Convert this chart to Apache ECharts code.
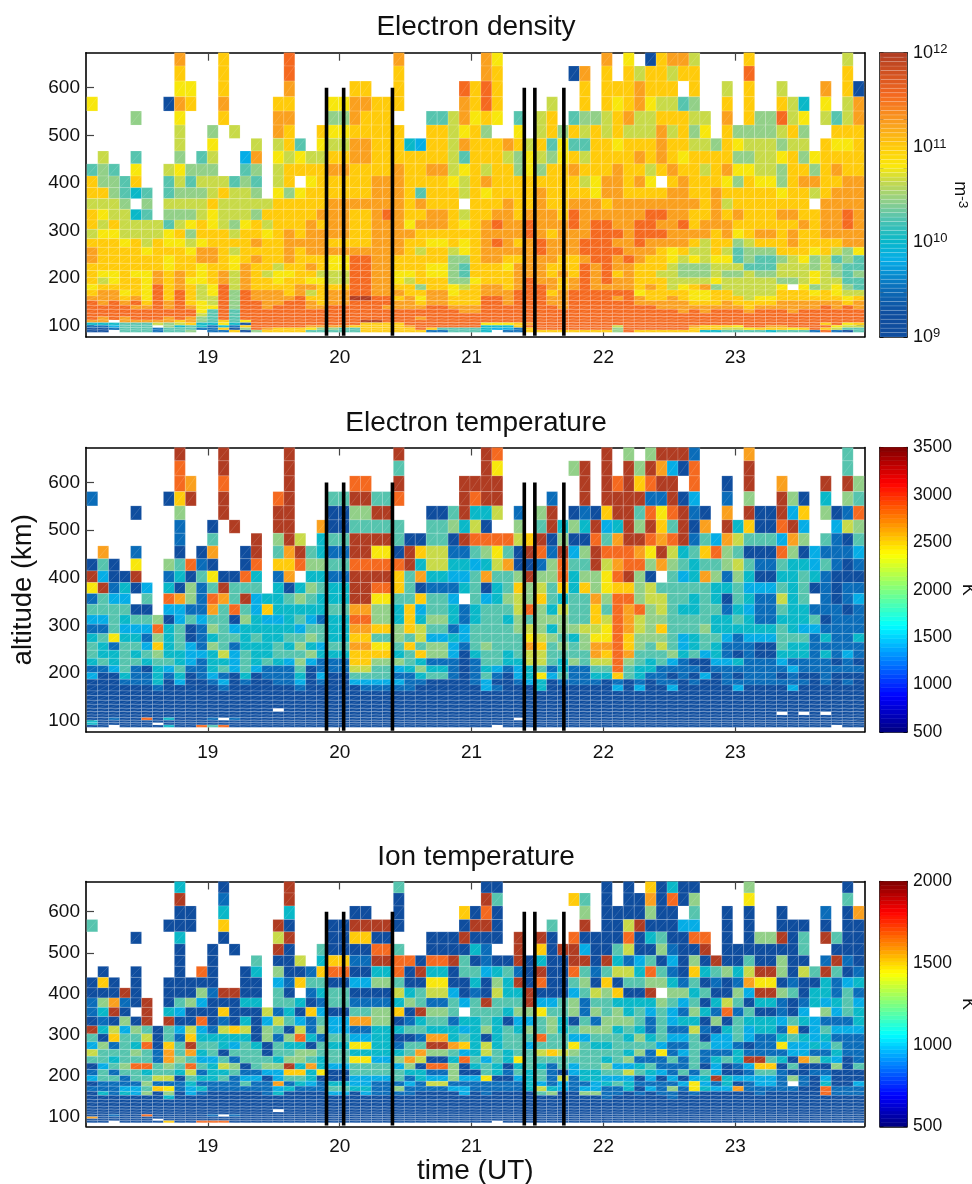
<!DOCTYPE html>
<html><head><meta charset="utf-8">
<style>html,body{margin:0;padding:0;background:#fff}#c{width:972px;height:1184px}</style>
<script src="https://cdn.jsdelivr.net/npm/echarts@6/dist/echarts.min.js"></script>
</head><body><div id="c"></div>
<script>
// ---- tick labels / categories ----
const titles = ['Electron density', 'Electron temperature', 'Ion temperature'];
const timeTicks = [19, 20, 21, 22, 23];
const altitudeTicks = [100, 200, 300, 400, 500, 600];
const eventTimes = [19.9, 20.03, 20.4, 21.4, 21.48, 21.7];
const timeStart = 18.082, timeStep = 0.08303;   // 5-minute integration columns (71 of them)
// altitude gate edges, km, top to bottom
const altitudeEdges = [673.6,645.6,614,581,551,521.6,493.6,467,440,414.5,390,367,344.5,322,302.5,282.8,264.7,247.9,231,215.6,200.9,187,175,162.4,152.6,142.8,134.4,126,119,112,106.4,100.8,95.8,91,86];
// reading of a cell's colour as a fraction of its colour scale; '.' = no data
const levelFractions = {0:.08,1:.17,2:.27,3:.34,4:.42,5:.48,6:.55,7:.60,8:.67,9:.75,A:.85,B:1};

// ---- electron density, colour-scale levels, one string per gate (groups of 5 columns) ----
const densityRows = [
"..... ...9. ..8.. ...A. ..... ...9. ..... .97.. ..... ..9.7 .0899 6.... 8.... ....6 .",
"..... ...8. ..8.. ...A. ..... ...8. ..... .98.. ....0 9.8.8 68868 8.... A.... ....8 .",
"..... ...77 ..8.. ...9. ....8 8..8. ....A 8A8.. ..... 8.888 9888. 8..6. 8..6. ..9.8 0",
"7.... ..098 ..9.. ..88. ..779 9888. ....9 8A8.. ..6.. 8.878 97664 5..8. 8..86 3.7.6 9",
"....5 ...7. ..8.. ..99. ..559 888.. .4469 787.4 .68.4 55689 66888 66.9. 855A6 7.646 9",
"..... ...6. .5.6. ..98. .8778 8888. .8867 85..7 .6858 68686 66968 57.85 55568 5..88 8",
"..... ...6. .7... 6.684 .7669 98883 28869 88898 68474 48878 88988 66587 66656 6.877 8",
".6..4 ...5. 46..2 9.767 66889 98888 88864 88865 76578 68888 98987 88885 56678 57888 8",
"454.7 ..675 55..4 5.688 88998 88898 89967 86885 75889 88898 86898 86897 76658 85898 8",
"85548 ..464 66645 4.68. 78888 89998 88876 89888 88888 67998 97.89 88875 87758 99889 9",
"88543 4.455 56866 5.757 88888 89998 48886 87888 89888 87998 88899 88988 88878 86899 9",
"6665. 5.666 68666 66888 88999 99998 9888. 88898 89889 99899 99999 98968 88888 8.999 9",
"87663 4.555 67666 58888 89998 89A98 89986 88998 9998A 99999 9AA99 88989 88899 8899A 9",
"86866 66467 87657 86888 98998 89997 99987 89A99 A999A 9AA99 AA99A 89998 88888 9899A 9",
"67766 66785 88868 87898 99998 89999 88888 89999 A9899 9AAA9 AAA99 99897 89989 88999 9",
"88878 68776 78888 98899 99888 89998 87787 89A98 9A999 AAA99 A9999 86885 68889 88889 9",
"98888 78887 99868 88898 99999 99998 68867 89999 9A999 AAAA9 99878 66864 55588 87865 7",
"98888 88788 99878 98898 8877A A9988 88855 89988 99988 9AA9A 98876 76774 54456 75645 4",
"88888 88788 78879 88688 9877A A9988 87754 88879 99888 A9A99 88865 55666 44466 65654 4",
"87787 79898 78969 86778 8666A A9977 87754 88889 99898 A9A89 88665 55655 65566 67654 5",
"86788 79897 78969 88788 7766A A9976 88855 78889 A9989 A9A99 88866 66766 66655 67664 4",
"78888 7A898 67A69 88889 9888A A9988 58876 89989 AA989 A9999 89867 89566 6667. 75675 4",
"89978 7A8A8 67A5A 99989 6899A A9998 89978 8999A AA89A AAAAA 78888 77886 66688 87876 6",
"99989 7A8A8 66A5A 9999A 8899B BAA89 79988 8AA9A AA99A AAA9A 98898 77888 67788 88887 8",
"A9A9A 8A9A8 76A5A A99AA 9899A AAA99 89988 8AA9A AA99A AAAAA 99999 88898 88899 99998 9",
"AAAA9 9A9A9 77A5A A9AAA 99AAA AA999 9AA99 9AAAA AAA9A AAAAA AA999 99999 89999 99A9A 9",
"AAAAA AAAAA 74A4A AAAAA AAAAA AAAAA AAAA9 9AAAA AAAAA AAAAA AAAA9 A9AAA 9AAA9 AAAAA A",
"AAAAA AAAAA 64A4A AAAAA AAAAA AAAAA AAAAA AAAAA AAAAA AAAAA AAAAA AAAAA AAAAA AAAAA A",
"A9A9A AA9A9 54A4A AAAAA AAAAA AAAAA 9AAAA AAAAA AAAAA AAAAA AAAAA AAAAA AAAAA AAAAA A",
"99.99 99989 54847 AAAAA AAAAA BBAAA AAAAA AAAAA AAAAA AAAAA AAAAA AAAAA AAAAA AAAAA A",
"33344 46568 33730 AAAAA AAAAA 8888A AAAAA A7778 9AAAA AAAAA AAAAA AAAAA AAAAA AA8A7 8",
"11244 4.534 31318 AAAAA 99998 88889 AAAAA A3338 AAAAA AAA6A AAAAA 98887 AA99A AAA76 6",
"00144 41444 11805 A9888 75544 88888 A8444 43221 8AAAA AAA5A AAAAA 88866 78887 8A864 4",
"00.44 41445 .1180 58888 44444 88888 81144 43.11 88888 8885A 88888 83344 44344 41A10 4"
];

// ---- electron temperature ----
const electronTempRows = [
"..... ...B. ..B.. ...B. ..... ...B. ..... .BA.. ..... ..B.5 .5BBB 1.... 9.... ....4 .",
"..... ...A. ..B.. ...B. ..... ...4. ..... .B7.. ....5 B.B.B 5B920 A.... B.... ....4 .",
"..... ...A9 ..A.. ...B. ....A A..B. ....B BBB.. ..... B.BAB 8ABB. A..0. B..9. ..B.B 5",
"1.... ..08B ..B.. ..AB. ..44B B44A. ....B ABB.. ..1.. B.BBB B11B0 2..1. 5..B5 0.3.5 4",
"....0 ...5. ..B.. ..BB. ..005 5BB.. .004B 336.1 .5B.0 108BB 4A7AB 10.9. B00B2 8.501 A",
"..... ...1. .0.B. ..BB. .9004 4444. .4453 60..5 .4B35 3B23B 5B84B 09.B3 800AB 2..26 5",
"..... ...1. .4... B.5B6 .344B BBB40 0440B AAAA6 8B050 0A49B BA9AB 14296 44429 5.410 4",
".9..1 ...0. 09..0 B.49B 4311B B770B 86611 45740 BA1B2 5BAAA 97B63 48A54 000A5 02111 2",
"040.7 ..54A 10..0 A.88A 5544A AAAAB 36633 23690 015A4 4B69A A5954 34456 41143 32410 1",
"B200B ..130 4700A 3.19. 3311B BBB84 93322 49445 B55A3 557AB 50.42 39515 30033 43100 0",
"7B130 2.305 14B44 4.303 5433B BAA84 01113 40348 56483 85788 56444 44334 22243 40101 1",
"1422. 4.A95 1A94B 23345 4333B B7744 8442. 42356 58434 495AA 56644 34304 31163 4.101 2",
"44440 0.221 194A4 28333 33449 95538 24431 34446 A5364 484A9 A5643 34413 21143 31110 1",
"22434 45024 24405 32234 2133A A5538 35531 34435 45554 486A9 65544 44334 31133 34011 1",
"11422 2A340 15423 33332 44339 98858 64412 44445 65355 667A9 65844 45333 33343 22111 1",
"34733 15340 13443 43344 54338 84454 62232 44444 76543 577A8 55542 34421 22244 41311 3",
"43144 28342 15413 33435 32449 97748 45521 45444 98454 599A8 54642 34311 10043 31111 1",
"43343 45332 23624 33444 53338 88834 85520 34434 66444 498A9 44453 42310 10033 31312 1",
"34344 34432 13324 34325 21118 85554 31110 14433 66435 466A5 43421 00223 11121 11101 0",
"11241 03241 13424 21114 01116 64423 53310 13212 34131 144A4 33111 10111 11112 11111 1",
"20031 13130 12103 01113 02004 44411 34410 14102 37241 13384 31101 02010 11101 00100 0",
"00011 13020 01201 00112 01002 22221 10000 12001 23011 11010 10110 10011 11111 10101 0",
"00000 01000 00100 00001 00000 11111 00000 02100 03000 00020 20020 00002 00002 00000 0",
"00000 00000 00000 00000 00000 00000 00000 00000 00000 00000 00000 00000 00000 00000 0",
"00000 00000 00000 00000 00000 00000 00000 00000 00000 00000 00000 00000 00000 00000 0",
"00000 00000 00000 00000 00000 00000 00000 00000 00000 00000 00000 00000 00000 00000 0",
"00000 00000 00000 00000 00000 00000 00000 00000 00000 00000 00000 00000 00000 00000 0",
"00000 00000 00000 00.00 00000 00000 00000 00000 00000 00000 00000 00000 00000 00000 0",
"00000 00000 00000 00000 00000 00000 00000 00000 00000 00000 00000 00000 000.0 .0.00 0",
"00000 00000 00000 00000 00000 00000 00000 00000 00000 00000 00000 00000 00000 00000 0",
"00100 A0300 01.10 00000 00000 00000 00000 0000. 00000 00000 00000 00000 00000 00000 0",
"30000 00000 00000 00000 00000 00000 00000 00000 00000 00000 00000 00000 00000 00000 0",
"30000 0.000 00000 00000 00000 00000 00000 00000 00000 00000 00000 00000 00000 00000 0",
"00.00 00300 A4A00 00000 00000 00000 00000 00.00 00000 00000 00000 00000 00000 000.0 0"
];

// ---- ion temperature ----
const ionTempRows = [
"..... ...3. ..0.. ...B. ..... ...4. ..... .00.. ..... ..0.0 .8030 0.... 5.... ....0 .",
"..... ...B. ..1.. ...B. ..... ...0. ..... .B4.. ....8 4.0.0 090A0 5.... 7.... ....4 .",
"..... ...00 ..3.. ...3. ....0 0..0. ....8 0A0.. ..... 5.000 0500. 4..0. 0..0. ..1.0 9",
"4.... ..000 ..8.. ..B0. ..00B BBB0. ....0 BB0.. ..4.. B.006 B0002 2..0. 0..00 0.0.0 0",
"....0 ...3. ..0.. ..6B. ..008 800.. .000B 000.B .B0.A 0000A 03400 AA.0. 055B0 4.B40 0",
"..... ...0. .0.0. ..B0. .4000 0AA4. .0000 31..B .80BB 20046 00510 0B.00 00000 4..00 0",
"..... ...0. .0... 4.006 .3881 1BBAA 0AAB4 0100B 0300B B0B31 24020 50B00 40050 0.1B1 0",
".0..0 ...0. A0..0 3.500 18AA0 033A0 B3304 42341 0B00A 41466 3A410 83453 6BB50 64B40 1",
"080.0 ..000 00..0 0.218 44002 25540 07700 3053B 0A004 50804 45531 40101 97701 00312 3",
"000B0 ..000 51BB0 0.40. 13440 00063 46620 10633 B0002 46580 0B.55 34005 2BB54 03314 1",
"15910 B.045 20003 3.443 01441 11135 41142 4B444 B2245 14433 33542 40364 03310 13234 2",
"13B0. B.320 00800 06130 82004 45580 B554. 44435 57445 15453 42421 531A1 40010 2.524 3",
"01050 B.B00 A0103 02642 14229 95501 34413 34302 24530 41555 41423 30504 33324 32111 3",
"B3625 40426 21686 05406 15221 13334 43332 35343 54534 55534 31411 61034 23318 02422 2",
"40844 60418 33333 0515A 31442 23300 19934 30344 4A442 24443 53422 40224 21134 32311 1",
"25143 A084B 44324 30433 04337 73314 4BB98 36344 24447 43344 44211 44221 01172 23241 1",
"64445 41949 34044 40445 54443 33334 95542 36434 46865 44443 51712 41113 11112 21131 1",
"44344 41954 22414 44355 43447 72259 6003A 42437 44444 44345 11141 41343 BB430 95320 1",
"0245A A454A 43650 455B3 93224 44425 0AA50 34303 43142 44522 34111 40201 28804 00050 4",
"14144 34436 13341 12288 37004 44443 31150 04314 34102 33446 43214 14200 14410 01100 0",
"24414 46604 33412 20244 30002 22241 32252 27002 34161 33222 02020 23B32 22215 10200 0",
"01111 51113 11114 11913 21332 21112 16611 11111 32121 12343 11112 72130 1221. 10300 2",
"11122 48712 31111 11231 11443 31151 11122 11111 36321 22113 02151 73229 11111 00A11 1",
"03132 50502 10000 01300 00220 21111 00002 01000 04500 55110 10110 10000 01000 00A11 1",
"00000 00300 00000 00000 00000 00000 00000 00000 00000 00100 00010 00000 00000 00000 0",
"00000 00000 00000 00000 00000 00000 00000 00000 00000 00000 00000 00000 00000 00000 0",
"00000 00000 00000 00000 00000 00000 00000 00000 00000 00000 00000 00000 00000 00000 0",
"00000 00000 00000 00000 00000 00000 00000 00000 00000 00000 00000 00000 00000 00000 0",
"00000 00000 00000 00.00 00000 00000 00000 00000 00000 00000 00000 00000 00000 00000 0",
"00000 00000 00000 00000 00000 00000 00000 00000 00000 00000 00000 00000 00000 00000 0",
"00100 A0000 01.10 00000 00000 00000 00000 00000 00000 00000 00000 00000 00000 00000 0",
"90000 00000 00000 00000 00000 00000 00000 00000 00000 00000 00000 00000 00000 00000 0",
"00000 0.000 00000 00000 00000 00000 00000 00000 00000 00000 00000 00000 00000 00000 0",
"00.00 00800 AAA00 00000 00000 00000 00000 00.00 00000 00000 00000 00000 00000 00000 0"
];

// ---- panel set-up ----
const FONT = '"Liberation Sans", Helvetica, Arial, sans-serif';
const INK = '#111';
const panels = [
  {rows: densityRows,      top: 52.7,  h: 284.3, altMin: 76.2, altMax: 673.6, min: 9,   max: 12,   step: 1,   titleTop: 8,   log: true},
  {rows: electronTempRows, top: 447.5, h: 284.5, altMin: 76.2, altMax: 673.6, min: 500, max: 3500, step: 500, titleTop: 404},
  {rows: ionTempRows,      top: 881.5, h: 244.8, altMin: 77.3, altMax: 673.6, min: 500, max: 2000, step: 500, titleTop: 838}
];
// print-converted cell colours
const cellStops = [[0,'#0f4d9e'],[.08,'#0f4d9e'],[.17,'#0a6cb8'],[.27,'#05ade8'],[.34,'#08b8c8'],[.42,'#56c4ae'],[.48,'#92d088'],[.55,'#c8da48'],[.60,'#fae80a'],[.67,'#ffcb0a'],[.75,'#faa01e'],[.85,'#f5691f'],[1,'#b03c22']];
const hex = s => [1,3,5].map(i => parseInt(s.substr(i,2),16));
function cellColor(t){
  for(let i=1;i<cellStops.length;i++){
    if(t<=cellStops[i][0]){
      const [a,ca]=cellStops[i-1],[b,cb]=cellStops[i];
      const f=(t-a)/(b-a||1),A=hex(ca),B=hex(cb);
      return 'rgb('+A.map((v,k)=>Math.round(v+(B[k]-v)*f)).join(',')+')';
    }
  }
  return cellStops[cellStops.length-1][1];
}
function jetColor(t){
  const c=x=>Math.round(255*Math.max(0,Math.min(1,1.5-Math.abs(4*t-x))));
  return 'rgb('+c(3)+','+c(2)+','+c(1)+')';
}
const paletteSize=128;
const cellPalette=Array.from({length:paletteSize},(_,i)=>cellColor(i/(paletteSize-1)));

function toCells(rows,p){
  const out=[];
  rows.forEach((raw,r)=>{
    const s=raw.replace(/\s/g,'');
    for(let i=0;i<71;i++){
      if(s[i]==='.'||s[i]===undefined) continue;
      const v=p.min+levelFractions[s[i]]*(p.max-p.min);
      out.push([timeStart+i*timeStep,timeStart+(i+1)*timeStep,altitudeEdges[r],altitudeEdges[r+1],v]);
    }
  });
  return out;
}
function renderCell(params,api){
  const a=api.coord([api.value(0),api.value(2)]), b=api.coord([api.value(1),api.value(3)]);
  const edge='rgba(255,255,255,0.25)';
  return {type:'group',children:[
    {type:'rect',shape:{x:a[0],y:a[1],width:b[0]-a[0],height:b[1]-a[1]},style:{fill:api.visual('color'),stroke:edge,lineWidth:0.6}},
    {type:'line',shape:{x1:a[0],y1:b[1],x2:b[0],y2:a[1]},style:{stroke:'rgba(255,255,255,0.28)',lineWidth:0.5}}
  ]};
}
function renderBar(params,api){
  const a=api.coord([0,api.value(1)]), b=api.coord([1,api.value(0)]);
  const isJet=api.value(2)===1;
  return {type:'rect',shape:{x:a[0],y:a[1],width:b[0]-a[0],height:b[1]-a[1]},
    style:isJet?{fill:jetColor(api.value(3)),stroke:jetColor(api.value(3)),lineWidth:0.5}
               :{fill:cellColor(api.value(3)),stroke:'rgba(255,255,255,0.22)',lineWidth:0.6}};
}

const option={animation:false,backgroundColor:'#fff',textStyle:{fontFamily:FONT},
  title:[],grid:[],xAxis:[],yAxis:[],series:[],visualMap:[]};
const axisLine={show:true,onZero:false,lineStyle:{color:'#000',width:1.6}};
const tick={show:true,inside:true,length:8,lineStyle:{color:'#444',width:1.2}};
const labelStyle={color:INK,fontSize:19,fontFamily:FONT};
const timeRange={min:18.076,max:23.98};

panels.forEach((p,k)=>{
  option.title.push({text:titles[k],left:471,top:p.titleTop,textAlign:'center',textStyle:{fontSize:28,fontWeight:'normal',color:INK,fontFamily:FONT}});
  option.grid.push({left:86,width:778.5,top:p.top,height:p.h,containLabel:false,outerBoundsMode:'none'});
  option.grid.push({left:880,width:27,top:p.top,height:p.h,containLabel:false,outerBoundsMode:'none'});
  const g=k*2;
  option.xAxis.push(Object.assign({type:'value',gridIndex:g,position:'bottom',axisLine,splitLine:{show:false},
    axisTick:Object.assign({},tick,{customValues:timeTicks}),
    axisLabel:Object.assign({},labelStyle,{customValues:timeTicks,margin:11,formatter:v=>String(v)})},timeRange,
    k===2?{name:'time (UT)',nameLocation:'middle',nameGap:30,nameTextStyle:{fontSize:28,color:INK,fontFamily:FONT}}:{}));
  option.xAxis.push(Object.assign({type:'value',gridIndex:g,position:'top',axisLine,splitLine:{show:false},
    axisTick:Object.assign({},tick,{customValues:timeTicks}),axisLabel:{show:false}},timeRange));
  option.yAxis.push(Object.assign({type:'value',gridIndex:g,position:'left',min:p.altMin,max:p.altMax,axisLine,splitLine:{show:false},
    axisTick:Object.assign({},tick,{customValues:altitudeTicks}),
    axisLabel:Object.assign({},labelStyle,{customValues:altitudeTicks,margin:6,padding:[3,0,0,0],formatter:v=>String(v)})},
    k===1?{name:'altitude (km)',nameLocation:'middle',nameRotate:90,nameGap:45,nameTextStyle:{fontSize:27.5,color:INK,fontFamily:FONT}}:{}));
  option.yAxis.push({type:'value',gridIndex:g,position:'right',min:p.altMin,max:p.altMax,axisLine,splitLine:{show:false},
    axisTick:Object.assign({},tick,{customValues:altitudeTicks}),axisLabel:{show:false}});
});

// colour-bar axes are appended after all main axes
panels.forEach((p,k)=>{
  const g=k*2+1;
  const barLine={show:true,onZero:false,lineStyle:{color:'#000',width:1.6}};
  option.xAxis.push({type:'value',gridIndex:g,min:0,max:1,axisLine:barLine,axisTick:{show:false},axisLabel:{show:false},splitLine:{show:false}});
  option.xAxis.push({type:'value',gridIndex:g,position:'top',min:0,max:1,axisLine:barLine,axisTick:{show:false},axisLabel:{show:false},splitLine:{show:false}});
  const barTick={show:true,inside:true,length:3.5,lineStyle:{color:'#000',width:1}};
  const minor=[];
  if(p.log){ for(let d=9;d<12;d++) for(let m=1;m<=9;m++) minor.push(d+Math.log10(m)); minor.push(12); }
  const tickOpt=p.log?Object.assign({},barTick,{customValues:minor}):barTick;
  const right={type:'value',gridIndex:g,position:'right',min:p.min,max:p.max,interval:p.step,axisLine:barLine,splitLine:{show:false},axisTick:tickOpt,
    axisLabel:p.log?{customValues:[9,10,11,12],margin:6,color:INK,fontFamily:FONT,formatter:v=>'{n|10}{s|'+v+'}',
      rich:{n:{fontSize:18,color:INK,fontFamily:FONT},s:{fontSize:13,color:INK,fontFamily:FONT,verticalAlign:'top',padding:[0,0,7,0]}}}:
      {margin:6,padding:[4,0,0,0],color:INK,fontSize:17.5,fontFamily:FONT,formatter:v=>String(v)},
    nameLocation:'middle',nameRotate:-90};
  if(p.log){right.name='m{s|-3}';right.nameGap=44;right.nameTextStyle={color:INK,fontSize:18,fontFamily:FONT,rich:{s:{fontSize:13.5,color:INK,fontFamily:FONT,verticalAlign:'top'}}};}
  else{right.name='K';right.nameGap=52;right.nameTextStyle={color:INK,fontSize:18,fontFamily:FONT};}
  option.yAxis.push(right);
  option.yAxis.push({type:'value',gridIndex:g,position:'left',min:p.min,max:p.max,interval:p.step,axisLine:barLine,splitLine:{show:false},axisTick:tickOpt,axisLabel:{show:false}});
});

panels.forEach((p,k)=>{
  const ax=k*2;
  const sIdx=option.series.length;
  option.series.push({type:'custom',xAxisIndex:ax,yAxisIndex:ax,renderItem:renderCell,data:toCells(p.rows,p),
    encode:{x:[0,1],y:[2,3]},silent:true,z:2,progressive:0});
  option.visualMap.push({show:false,seriesIndex:sIdx,dimension:4,min:p.min,max:p.max,inRange:{color:cellPalette}});
  eventTimes.forEach(t=>{
    option.series.push({type:'line',xAxisIndex:ax,yAxisIndex:ax,data:[[t,600],[t,79]],symbol:'none',silent:true,z:5,
      lineStyle:{color:'#000',width:3.6,cap:'butt'}});
  });
  const n=64, bar=[];
  for(let i=0;i<n;i++) bar.push([p.min+(p.max-p.min)*i/n,p.min+(p.max-p.min)*(i+1)/n,p.log?0:1,(i+.5)/n]);
  const bx=6+k*2;
  option.series.push({type:'custom',xAxisIndex:bx,yAxisIndex:bx,renderItem:renderBar,data:bar,encode:{y:[0,1]},silent:true,z:2});
});

const chart=echarts.init(document.getElementById('c'),null,{renderer:'canvas',width:972,height:1184});
chart.setOption(option);
</script></body></html>
